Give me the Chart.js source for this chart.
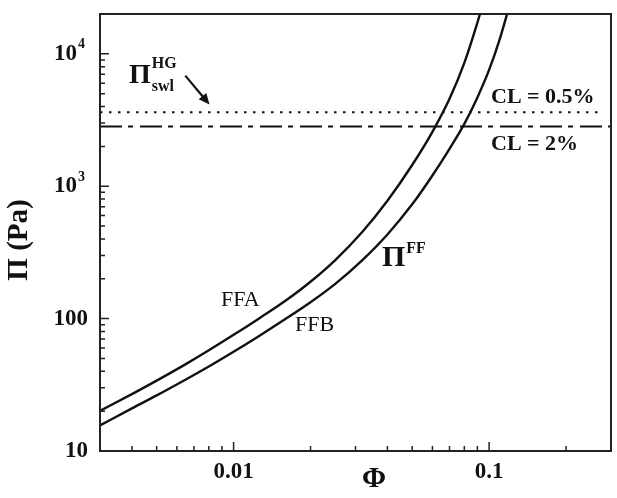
<!DOCTYPE html>
<html lang="en">
<head>
<meta charset="UTF-8">
<title>Osmotic pressure vs volume fraction</title>
<script src="https://cdn.jsdelivr.net/npm/chart.js"></script>
<style>
  body { margin: 0; background: #fff; }
  #wrap { width: 617px; height: 498px; }
</style>
</head>
<body>
<div id="wrap"><canvas id="chart" width="617" height="498"></canvas></div>
<script>
// curve values (Phi, Pi in Pa)
const phiFFA = [0.003, 0.004, 0.005, 0.0065, 0.008, 0.01, 0.0125, 0.016, 0.02, 0.025, 0.032, 0.04,
                0.05, 0.06, 0.07, 0.08, 0.09, 0.095];
const piFFA  = [20.1, 26.9, 34.0, 45.3, 57.6, 75.4, 99.5, 137, 190, 277, 455, 777,
                1447, 2576, 4577, 8553, 17220, 24650];
const phiFFB = [0.003, 0.004, 0.005, 0.0065, 0.008, 0.01, 0.0125, 0.016, 0.02, 0.025, 0.032, 0.04,
                0.05, 0.06, 0.07, 0.08, 0.09, 0.1, 0.11, 0.12];
const piFFB  = [15.6, 21.0, 26.3, 34.7, 43.5, 56.2, 73.4, 99.7, 133, 183, 278, 432,
                730, 1206, 1918, 2960, 4690, 7560, 12870, 22940];

// swelling pressure of the hydrogel, two crosslink levels
const clPhi = [0.003, 0.279];
const clPi05 = [3620, 3620];
const clPhi2 = [0.003, 0.3];
const clPi2 = [2830, 2830];

const xRange = [0.003, 0.3];
const yRange = [10, 20000];
const xMajor = [0.01, 0.1];
const xMajorLabels = ['0.01', '0.1'];
const xMinor = [0.004, 0.005, 0.006, 0.007, 0.008, 0.009, 0.02, 0.03, 0.04, 0.05, 0.06, 0.07, 0.08, 0.09, 0.2];
const yMajor = [10, 100, 1000, 10000];
const yMajorLabels = [['10', ''], ['100', ''], ['10', '3'], ['10', '4']];
const yMinor = [20, 30, 40, 50, 60, 70, 80, 90, 200, 300, 400, 500, 600, 700, 800, 900,
                2000, 3000, 4000, 5000, 6000, 7000, 8000, 9000];

const SERIF = '"Liberation Serif", "DejaVu Serif", serif';
const INK = '#111';

function pts(xs, ys) { return xs.map((x, i) => ({ x: x, y: ys[i] })); }

// draws base text with optional superscript / subscript, left aligned at x
function richText(ctx, x, y, base, baseFont, sup, sub, smallFont, supDy, subDy) {
    ctx.font = baseFont;
    ctx.textAlign = 'left';
    ctx.textBaseline = 'alphabetic';
    ctx.fillText(base, x, y);
    const w = ctx.measureText(base).width;
    ctx.font = smallFont;
    if (sup) ctx.fillText(sup, x + w + 1, y - supDy);
    if (sub) ctx.fillText(sub, x + w + 1, y + subDy);
}

const axesAndNotes = {
    id: 'axesAndNotes',
    afterDatasetsDraw(chart) {
        const ctx = chart.ctx;
        const a = chart.chartArea;
        const xs = chart.scales.x, ys = chart.scales.y;
        ctx.save();
        ctx.strokeStyle = '#222';
        ctx.fillStyle = INK;

        // frame
        ctx.lineWidth = 2;
        ctx.strokeRect(a.left, a.top, a.right - a.left, a.bottom - a.top);

        // inward ticks
        ctx.lineWidth = 1.5;
        ctx.beginPath();
        xMajor.forEach(v => { const p = xs.getPixelForValue(v); ctx.moveTo(p, a.bottom); ctx.lineTo(p, a.bottom - 9); });
        xMinor.forEach(v => { const p = xs.getPixelForValue(v); ctx.moveTo(p, a.bottom); ctx.lineTo(p, a.bottom - 5); });
        yMajor.forEach(v => { const p = ys.getPixelForValue(v); ctx.moveTo(a.left, p); ctx.lineTo(a.left + 9, p); });
        yMinor.forEach(v => { const p = ys.getPixelForValue(v); ctx.moveTo(a.left, p); ctx.lineTo(a.left + 5, p); });
        ctx.stroke();

        // tick labels
        ctx.font = 'bold 23px ' + SERIF;
        ctx.textBaseline = 'middle';
        ctx.textAlign = 'center';
        xMajor.forEach((v, i) => ctx.fillText(xMajorLabels[i], xs.getPixelForValue(v), a.bottom + 21));
        yMajor.forEach((v, i) => {
            const p = ys.getPixelForValue(v);
            const [base, sup] = yMajorLabels[i];
            ctx.font = 'bold 23px ' + SERIF;
            ctx.textBaseline = 'middle';
            if (!sup) {
                ctx.textAlign = 'right';
                ctx.fillText(base, 88, p);
            } else {
                ctx.textAlign = 'right';
                ctx.fillText(base, 77, p);
                ctx.font = 'bold 14px ' + SERIF;
                ctx.textAlign = 'left';
                ctx.fillText(sup, 78, p - 9);
            }
        });

        // axis titles
        ctx.font = 'bold 29px ' + SERIF;
        ctx.textAlign = 'center';
        ctx.textBaseline = 'middle';
        ctx.fillText('\u03A6', 374, 480);
        ctx.save();
        ctx.translate(20, 240);
        ctx.rotate(-Math.PI / 2);
        ctx.fillText('\u03A0 (Pa)', 0, 0);
        ctx.restore();

        // curve and line labels
        ctx.font = '22px ' + SERIF;
        ctx.textAlign = 'left';
        ctx.textBaseline = 'alphabetic';
        ctx.fillText('FFA', 221, 306);
        ctx.fillText('FFB', 295, 331);
        ctx.font = 'bold 22px ' + SERIF;
        ctx.fillText('CL = 0.5%', 491, 103);
        ctx.fillText('CL = 2%', 491, 150);

        richText(ctx, 382, 266, '\u03A0', 'bold 30px ' + SERIF, 'FF', null, 'bold 16px ' + SERIF, 13, 0);
        richText(ctx, 129, 83, '\u03A0', 'bold 28px ' + SERIF, 'HG', 'swl', 'bold 16px ' + SERIF, 15, 8);

        // arrow to the swelling-pressure line
        const x0 = xs.getPixelForValue(0.00647), y0 = ys.getPixelForValue(6850);
        const x1 = xs.getPixelForValue(0.00805), y1 = ys.getPixelForValue(4140);
        const ang = Math.atan2(y1 - y0, x1 - x0);
        ctx.lineWidth = 2.2;
        ctx.strokeStyle = INK;
        ctx.beginPath();
        ctx.moveTo(x0, y0);
        ctx.lineTo(x1 - 6 * Math.cos(ang), y1 - 6 * Math.sin(ang));
        ctx.stroke();
        ctx.beginPath();
        ctx.moveTo(x1, y1);
        ctx.lineTo(x1 - 11 * Math.cos(ang) + 5 * Math.sin(ang), y1 - 11 * Math.sin(ang) - 5 * Math.cos(ang));
        ctx.lineTo(x1 - 11 * Math.cos(ang) - 5 * Math.sin(ang), y1 - 11 * Math.sin(ang) + 5 * Math.cos(ang));
        ctx.closePath();
        ctx.fill();

        ctx.restore();
    }
};

const curveStyle = { borderColor: INK, borderWidth: 2.4, pointRadius: 0, fill: false, cubicInterpolationMode: 'monotone' };

new Chart(document.getElementById('chart'), {
    type: 'line',
    data: {
        datasets: [
            Object.assign({ label: 'FFA', data: pts(phiFFA, piFFA) }, curveStyle),
            Object.assign({ label: 'FFB', data: pts(phiFFB, piFFB) }, curveStyle),
            { label: 'CL = 0.5%', data: pts(clPhi, clPi05), borderColor: INK, borderWidth: 2.2,
              borderDash: [2.5, 6.5], pointRadius: 0 },
            { label: 'CL = 2%', data: pts(clPhi2, clPi2), borderColor: INK, borderWidth: 2,
              borderDash: [22, 6, 5, 7], pointRadius: 0 }
        ]
    },
    options: {
        responsive: false,
        animation: false,
        layout: { padding: { left: 100, top: 14, right: 6, bottom: 47 } },
        plugins: { legend: { display: false }, tooltip: { enabled: false } },
        scales: {
            x: { type: 'logarithmic', min: xRange[0], max: xRange[1], display: false },
            y: { type: 'logarithmic', min: yRange[0], max: yRange[1], display: false }
        }
    },
    plugins: [axesAndNotes]
});
</script>
</body>
</html>
